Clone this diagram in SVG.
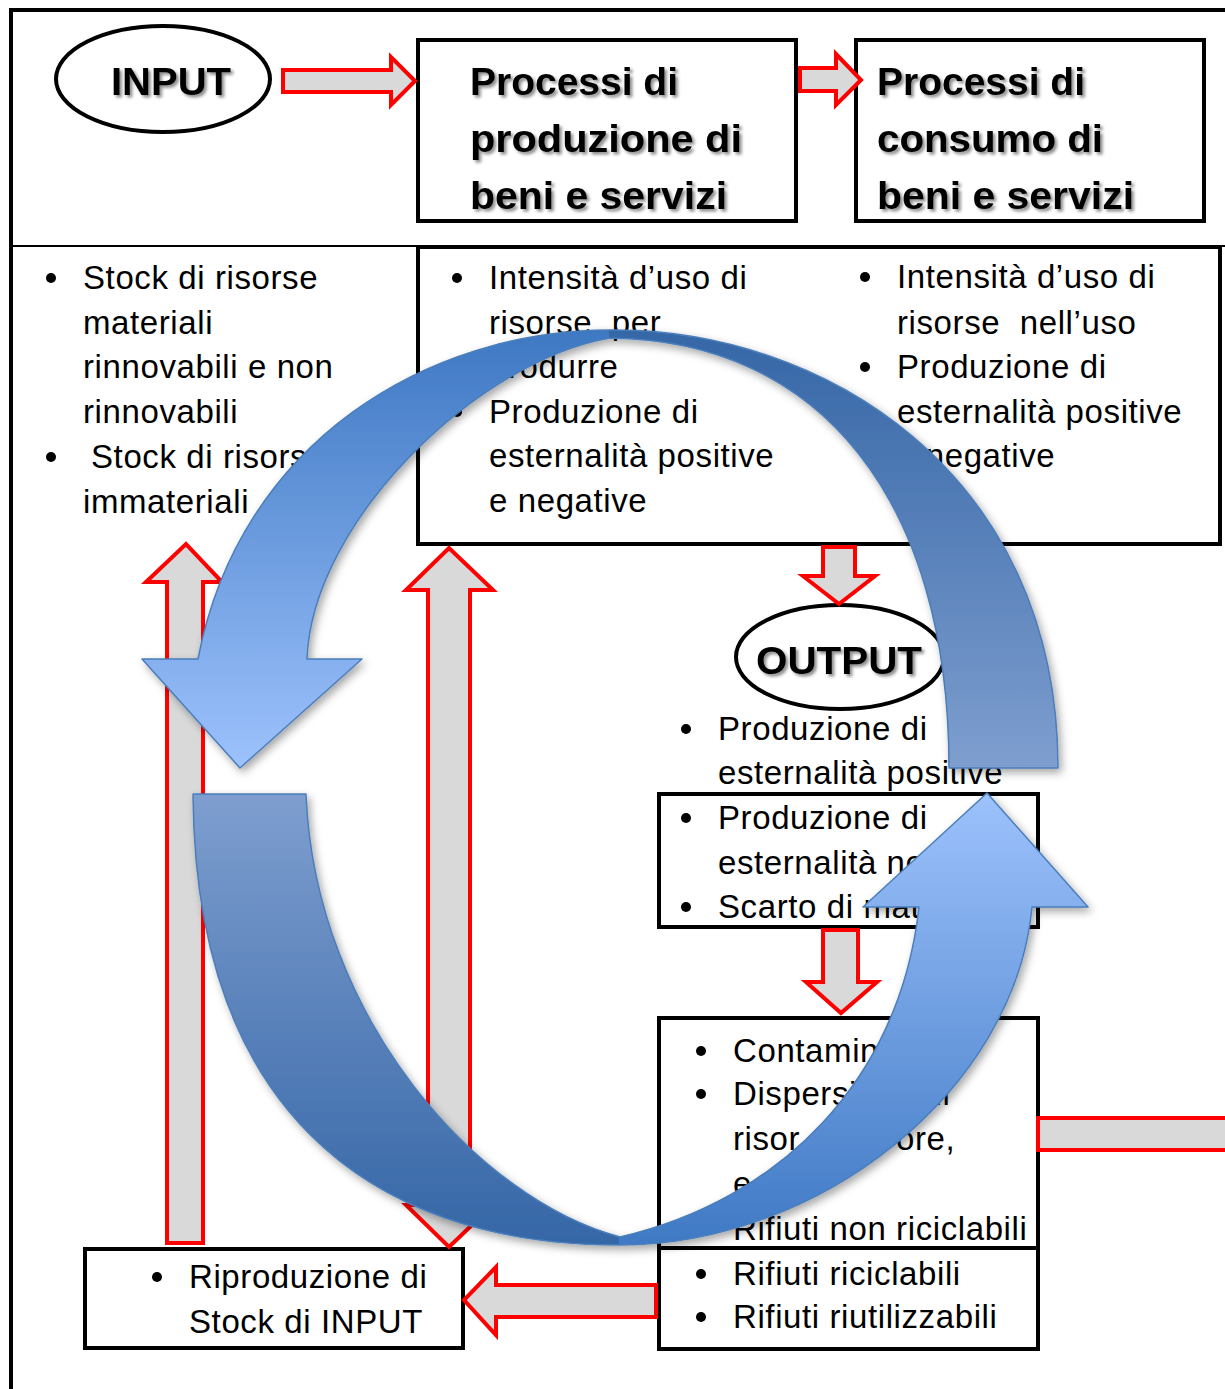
<svg xmlns="http://www.w3.org/2000/svg" width="1225" height="1389" viewBox="0 0 1225 1389">
<style>
.bx{fill:#fff;stroke:#000;stroke-width:4}
.ln{fill:none;stroke:#000}
.t{font-family:"Liberation Sans",Arial,sans-serif;font-size:33px;letter-spacing:0.6px;fill:#000}
.h{font-family:"Liberation Sans",Arial,sans-serif;font-size:38px;font-weight:bold;fill:#000;filter:url(#ts)}
.b{fill:#000}
.ra{fill:#D9D9D9;stroke:#FF0000;stroke-width:4;stroke-linejoin:miter}
.bo{fill:none;stroke:#4A7EBB;stroke-width:1.5;stroke-linejoin:round}
</style>
<defs>
<filter id="ts" x="-10%" y="-20%" width="130%" height="150%">
<feDropShadow dx="2.5" dy="2.5" stdDeviation="1.5" flood-color="#000" flood-opacity="0.45"/>
</filter>
<filter id="bs" x="-10%" y="-10%" width="125%" height="125%">
<feDropShadow dx="3" dy="4" stdDeviation="4" flood-color="#000" flood-opacity="0.35"/>
</filter>
<linearGradient id="gHeadUp" gradientUnits="userSpaceOnUse" x1="0" y1="330" x2="0" y2="768">
<stop offset="0" stop-color="#3E78C3"/><stop offset="1" stop-color="#9DC2FC"/>
</linearGradient>
<linearGradient id="gTailUp" gradientUnits="userSpaceOnUse" x1="0" y1="330" x2="0" y2="768">
<stop offset="0" stop-color="#3566A6"/><stop offset="1" stop-color="#7E9ECF"/>
</linearGradient>
<linearGradient id="gTailLow" gradientUnits="userSpaceOnUse" x1="0" y1="794" x2="0" y2="1245">
<stop offset="0" stop-color="#7E9ECF"/><stop offset="1" stop-color="#3566A6"/>
</linearGradient>
<linearGradient id="gHeadLow" gradientUnits="userSpaceOnUse" x1="0" y1="1245" x2="0" y2="793">
<stop offset="0" stop-color="#3F79C4"/><stop offset="1" stop-color="#9DC2FC"/>
</linearGradient>
</defs>
<rect x="0" y="0" width="1225" height="1389" fill="#fff"/>

<g id="frame">
<path class="ln" stroke-width="4" d="M11,1389 L11,10 L1225,10"/>
<path class="ln" stroke-width="2" d="M11,246 L1225,246"/>
</g>

<g id="node-input">
<ellipse class="bx" cx="163" cy="79" rx="107" ry="53"/>
<text class="h" x="111" y="95" font-size="42" textLength="120" lengthAdjust="spacingAndGlyphs">INPUT</text>
</g>

<g id="node-produzione">
<rect class="bx" x="418" y="40" width="378" height="181"/>
<text class="h" x="470" y="95" textLength="208" lengthAdjust="spacingAndGlyphs">Processi di</text>
<text class="h" x="470" y="152" textLength="272" lengthAdjust="spacingAndGlyphs">produzione di</text>
<text class="h" x="470" y="209" textLength="257" lengthAdjust="spacingAndGlyphs">beni e servizi</text>
</g>

<g id="node-consumo">
<rect class="bx" x="856" y="40" width="348" height="181"/>
<text class="h" x="877" y="95" textLength="208" lengthAdjust="spacingAndGlyphs">Processi di</text>
<text class="h" x="877" y="152" textLength="226" lengthAdjust="spacingAndGlyphs">consumo di</text>
<text class="h" x="877" y="209" textLength="257" lengthAdjust="spacingAndGlyphs">beni e servizi</text>
</g>

<g id="node-stock">
<circle class="b" cx="51" cy="278" r="5"/>
<text class="t" x="83" y="289">Stock di risorse</text>
<text class="t" x="83" y="334">materiali</text>
<text class="t" x="83" y="378">rinnovabili e non</text>
<text class="t" x="83" y="423">rinnovabili</text>
<circle class="b" cx="51" cy="457" r="5"/>
<text class="t" x="91" y="468">Stock di risorse</text>
<text class="t" x="83" y="513">immateriali</text>
</g>

<g id="node-intensita">
<rect class="bx" x="418" y="247" width="802" height="297"/>
<circle class="b" cx="457" cy="278" r="5"/>
<text class="t" x="489" y="289">Intensità d’uso di</text>
<text class="t" x="489" y="334" xml:space="preserve">risorse  per</text>
<text class="t" x="489" y="378">produrre</text>
<circle class="b" cx="457" cy="412" r="5"/>
<text class="t" x="489" y="423">Produzione di</text>
<text class="t" x="489" y="467">esternalità positive</text>
<text class="t" x="489" y="512">e negative</text>
<circle class="b" cx="865" cy="277" r="5"/>
<text class="t" x="897" y="288">Intensità d’uso di</text>
<text class="t" x="897" y="334" xml:space="preserve">risorse  nell’uso</text>
<circle class="b" cx="865" cy="367" r="5"/>
<text class="t" x="897" y="378">Produzione di</text>
<text class="t" x="897" y="423">esternalità positive</text>
<text class="t" x="897" y="467">e negative</text>
</g>

<g id="node-output">
<ellipse class="bx" cx="840" cy="657" rx="104" ry="52"/>
<text class="h" x="756" y="674" font-size="41" textLength="166" lengthAdjust="spacingAndGlyphs">OUTPUT</text>
<circle class="b" cx="686" cy="729" r="5"/>
<text class="t" x="718" y="740">Produzione di</text>
<text class="t" x="718" y="784">esternalità positive</text>
</g>

<g id="node-esternalita">
<rect class="bx" x="659" y="794" width="379" height="133"/>
<circle class="b" cx="686" cy="818" r="5"/>
<text class="t" x="718" y="829">Produzione di</text>
<text class="t" x="718" y="874">esternalità negative</text>
<circle class="b" cx="686" cy="907" r="5"/>
<text class="t" x="718" y="918">Scarto di materiali</text>
</g>

<g id="node-rifiuti">
<rect class="bx" x="659" y="1018" width="379" height="331"/>
<path class="ln" stroke-width="4" d="M659,1248 L1038,1248"/>
<circle class="b" cx="701" cy="1051" r="5"/>
<text class="t" x="733" y="1062">Contamin</text>
<circle class="b" cx="701" cy="1094" r="5"/>
<text class="t" x="733" y="1105">Dispersione di</text>
<text class="t" x="733" y="1150">risor</text>
<text class="t" x="896" y="1150">ore,</text>
<text class="t" x="733" y="1195">e</text>
<circle class="b" cx="701" cy="1229" r="5"/>
<text class="t" x="733" y="1240">Rifiuti non riciclabili</text>
<circle class="b" cx="701" cy="1274" r="5"/>
<text class="t" x="733" y="1285">Rifiuti riciclabili</text>
<circle class="b" cx="701" cy="1317" r="5"/>
<text class="t" x="733" y="1328">Rifiuti riutilizzabili</text>
</g>

<g id="node-riproduzione">
<rect class="bx" x="85" y="1249" width="378" height="99"/>
<circle class="b" cx="157" cy="1277" r="5"/>
<text class="t" x="189" y="1288">Riproduzione di</text>
<text class="t" x="189" y="1333">Stock di INPUT</text>
</g>

<g id="connectors">
<polygon class="ra" points="283,70 391,70 391,57 415,81 391,105 391,92 283,92"/>
<polygon class="ra" points="800,68 836,68 836,54 861,80 836,105 836,91 800,91"/>
<polygon class="ra" points="823,547 855,547 855,576 875,576 839,604 803,576 823,576"/>
<polygon class="ra" points="823,930 858,930 858,982 877,982 841,1013 806,982 823,982"/>
<path class="ra" d="M1260,1118 L1038,1118 L1038,1150 L1260,1150"/>
<polygon class="ra" points="656,1285 496,1285 496,1267 464,1300 496,1335 496,1317 656,1317"/>
<polygon class="ra" points="167,1243 167,582 146,582 186,544 222,582 203,582 203,1243"/>
<polygon class="ra" points="428,590 406,590 449,548 493,590 470,590 470,1205 493,1205 449,1247 406,1205 428,1205"/>

<g id="cycle-arrow-top" filter="url(#bs)">
<path fill="url(#gHeadUp)" d="M610,330 C430,330 240,440 198,659 L142,659 L240,768 L362,659 L307,659 C312,520 480,360 610,338 Z"/>
<path fill="url(#gTailUp)" d="M609,330 C820,328 1058,470 1058,768 L949,768 C949,500 820,340 609,338 Z"/>
<path class="bo" d="M1058,768 C1058,470 820,328 610,330 C430,330 240,440 198,659 L142,659 L240,768 L362,659 L307,659 C312,520 480,360 610,338 C820,340 949,500 949,768 Z"/>
</g>

<g id="cycle-arrow-bottom" filter="url(#bs)">
<path fill="url(#gTailLow)" d="M193,794 L306,794 C315,1020 480,1200 620,1237 L620,1245 C360,1245 195,1100 193,794 Z"/>
<path fill="url(#gHeadLow)" d="M619,1245 C820,1245 1015,1090 1032,907 L1088,907 L987,793 L863,907 L919,907 C900,1080 780,1200 619,1237 Z"/>
<path class="bo" d="M193,794 L306,794 C315,1020 480,1200 620,1237 C780,1200 900,1080 919,907 L863,907 L987,793 L1088,907 L1032,907 C1015,1090 820,1245 620,1245 C360,1245 195,1100 193,794 Z"/>
</g>
</g>
</svg>
